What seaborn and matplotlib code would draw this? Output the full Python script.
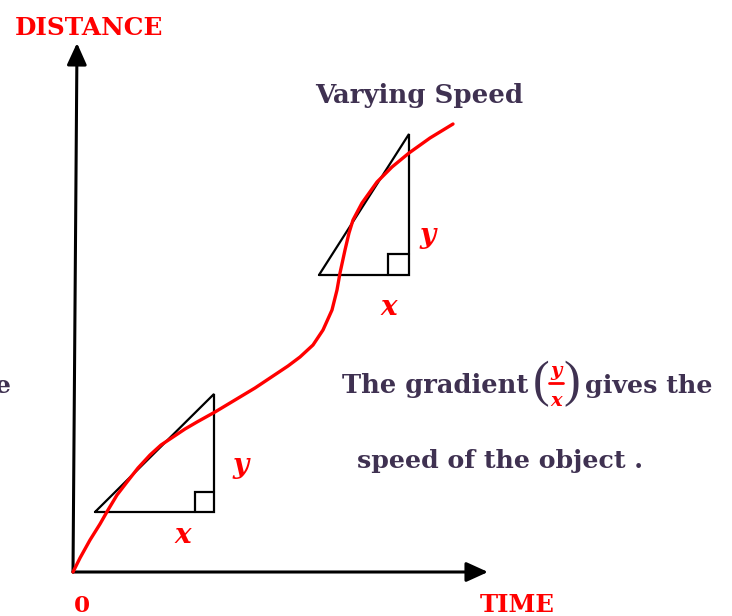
import matplotlib
matplotlib.use("Agg")
import matplotlib.pyplot as plt
import seaborn as sns
import pandas as pd

# ---- data (pixel space of the diagram) ----
curve_x = [73, 80, 90, 100, 108, 117, 127, 138, 150, 161, 173, 185, 197, 215, 235,
           255, 270, 288, 300, 313, 323, 332, 337, 340, 345, 349, 353, 362, 377,
           392, 409, 430, 453]
curve_y = [572, 558, 540, 524, 510, 495, 482, 468, 455, 445, 437, 429, 422, 412, 400,
           388, 378, 366, 357, 345, 330, 310, 290, 273, 250, 233, 220, 203, 182,
           167, 153, 138, 124]

y_axis_x = [73, 77]
y_axis_y = [572, 43]
x_axis_x = [73, 488]
x_axis_y = [572, 572]

tri1_x = [95, 214, 214, 95]
tri1_y = [512, 512, 394, 512]
box1_x = [195, 195, 214]
box1_y = [512, 492, 492]

tri2_x = [319, 409, 409, 319]
tri2_y = [275, 275, 134, 275]
box2_x = [388, 388, 409]
box2_y = [275, 254, 254]

labels_red = ["DISTANCE", "0", "TIME"]
label_lines = ["Varying Speed", "The gradient", "gives the", "speed of the object ."]

RED = "#FF0000"
PURPLE = "#3F3151"

sns.set_theme(style="white")
plt.rcParams["font.family"] = ["DejaVu Serif", "DejaVu Sans"]

fig = plt.figure(figsize=(7.32, 6.16), dpi=100)
ax = fig.add_axes([0, 0, 1, 1])
ax.set_xlim(0, 732)
ax.set_ylim(616, 0)
ax.axis("off")

df = pd.DataFrame({"x": curve_x, "y": curve_y})
sns.lineplot(data=df, x="x", y="y", sort=False, estimator=None, color=RED,
             linewidth=2.4, ax=ax, solid_capstyle="round", solid_joinstyle="round", zorder=5)

# axes arrows
for xs, ys in [(y_axis_x, y_axis_y), (x_axis_x, x_axis_y)]:
    ax.annotate("", xy=(xs[1], ys[1]), xytext=(xs[0], ys[0]),
                arrowprops=dict(arrowstyle="-|>,head_length=1.1,head_width=0.5",
                                lw=2.2, color="black", shrinkA=0, shrinkB=0))

# triangles
for tx, ty, bx, by in [(tri1_x, tri1_y, box1_x, box1_y), (tri2_x, tri2_y, box2_x, box2_y)]:
    ax.plot(tx, ty, color="black", lw=1.6, solid_joinstyle="miter", zorder=3)
    ax.plot(bx, by, color="black", lw=1.6, solid_joinstyle="miter", zorder=3)

fig.canvas.draw()
renderer = fig.canvas.get_renderer()


def fit_text(s, x0, x1, y, color, size=19, **kw):
    t = ax.text(x0, y, s, color=color, fontsize=size, ha="left", va="baseline",
                fontweight="bold", **kw)
    w = t.get_window_extent(renderer).width
    t.set_fontsize(size * (x1 - x0) / w)
    return t


fit_text(labels_red[0], 15, 163, 35, RED)
fit_text(labels_red[1], 74, 90, 612, RED)
fit_text(labels_red[2], 480, 555, 612, RED)

fit_text(label_lines[0], 315, 523, 103, PURPLE)
fit_text(label_lines[1], 342, 528, 393, PURPLE)
fit_text(label_lines[2], 585, 713, 393, PURPLE)
fit_text(label_lines[3], 357, 643, 468, PURPLE)
ax.text(11, 393, "e", color=PURPLE, fontsize=18, fontweight="bold", ha="right", va="baseline")

# fraction (y/x)
ax.text(541, 384, "(", color=PURPLE, fontsize=36, family="Liberation Serif",
        ha="center", va="center")
ax.text(572, 384, ")", color=PURPLE, fontsize=36, family="Liberation Serif",
        ha="center", va="center")
ax.text(556, 376, "y", color=RED, fontsize=14, fontweight="bold", style="italic",
        ha="center", va="baseline")
ax.plot([549, 563], [383, 383], color=RED, lw=2)
ax.text(556, 406, "x", color=RED, fontsize=14, fontweight="bold", style="italic",
        ha="center", va="baseline")

# side labels
for s, x, y in [("y", 241, 473), ("x", 183, 543), ("y", 428, 243), ("x", 389, 315)]:
    ax.text(x, y, s, color=RED, fontsize=20, fontweight="bold", style="italic",
            ha="center", va="baseline")

fig.savefig("out.png", dpi=100)
